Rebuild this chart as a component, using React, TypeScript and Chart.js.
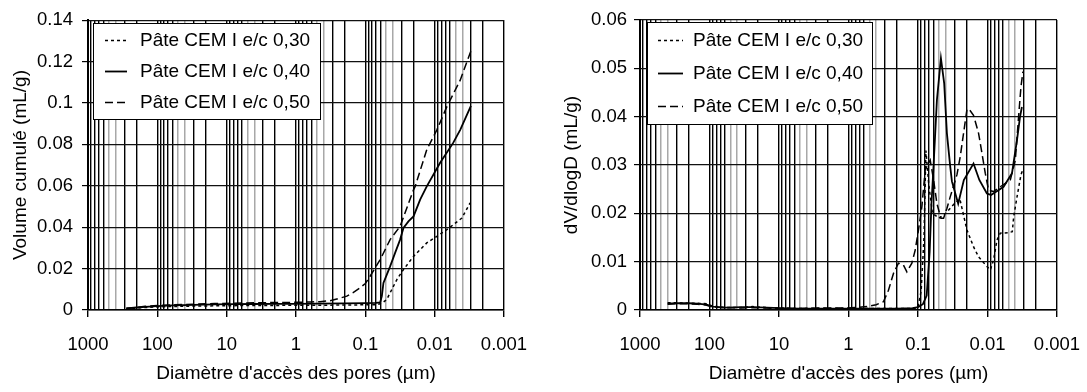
import React, { useEffect, useRef } from 'react';
import { Chart, registerables } from 'chart.js';

Chart.register(...registerables);

// Shared axis labelling
const X_TICK_LABELS = ['1000', '100', '10', '1', '0.1', '0.01', '0.001'];
const MINOR_STEPS = [2, 3, 4, 5, 6, 7, 8, 9];
const SERIES_LABELS = ['Pâte CEM I e/c 0,30', 'Pâte CEM I e/c 0,40', 'Pâte CEM I e/c 0,50'];
const X_TITLE = "Diamètre d'accès des pores (µm)";

// Cumulative intruded volume (mL/g) versus pore access diameter (µm)
const CUM_D_030 = [280, 200, 150, 100, 60, 30, 15, 8, 4, 2, 1, 0.5, 0.2, 0.1, 0.07, 0.061, 0.055, 0.049, 0.0415, 0.0351, 0.0282, 0.0202, 0.013, 0.00929, 0.00667, 0.00405, 0.00308];
const CUM_V_030 = [0.0005, 0.0009, 0.0012, 0.0015, 0.0017, 0.0019, 0.002, 0.0021, 0.0022, 0.0022, 0.0023, 0.0023, 0.0024, 0.0025, 0.0026, 0.003, 0.0038, 0.0051, 0.0099, 0.0147, 0.0195, 0.0259, 0.0324, 0.0356, 0.0388, 0.0444, 0.0517];

const CUM_D_040 = [280, 200, 150, 100, 60, 30, 15, 8, 4, 2, 1, 0.5, 0.2, 0.1, 0.07, 0.0611, 0.0578, 0.0548, 0.049, 0.0439, 0.0372, 0.0315, 0.0282, 0.0239, 0.0202, 0.0162, 0.013, 0.00834, 0.00541, 0.00428, 0.003];
const CUM_V_040 = [0.0008, 0.0012, 0.0015, 0.0019, 0.0022, 0.0025, 0.0027, 0.0028, 0.0029, 0.003, 0.003, 0.0031, 0.0032, 0.0033, 0.0034, 0.0037, 0.0067, 0.0131, 0.0171, 0.0211, 0.0276, 0.034, 0.0396, 0.0428, 0.0452, 0.0533, 0.0597, 0.0711, 0.0807, 0.087, 0.0986];

const CUM_D_050 = [280, 200, 150, 100, 60, 30, 15, 8, 4, 2, 1, 0.6, 0.45, 0.322, 0.25, 0.185, 0.15, 0.119, 0.1, 0.0853, 0.0723, 0.0611, 0.0439, 0.0315, 0.0202, 0.0191, 0.013, 0.00929, 0.00667, 0.00428, 0.0029];
const CUM_V_050 = [0.0008, 0.0012, 0.0018, 0.0022, 0.0025, 0.0028, 0.0031, 0.0033, 0.0035, 0.0036, 0.0037, 0.0039, 0.004, 0.0045, 0.0054, 0.0067, 0.0084, 0.0107, 0.0128, 0.0163, 0.0203, 0.0243, 0.034, 0.0404, 0.058, 0.0597, 0.0774, 0.087, 0.0982, 0.111, 0.1264];

// Differential distribution dV/dlogD (mL/g) versus pore access diameter (µm)
const DIF_D_030 = [400, 300, 200, 150, 110, 90, 60, 33, 24, 15, 9.6, 5, 2.8, 1.05, 0.5, 0.2, 0.12, 0.1, 0.09, 0.082, 0.077, 0.07, 0.062, 0.05, 0.04, 0.03, 0.025, 0.0198, 0.0159, 0.01346, 0.0102, 0.0091, 0.0082, 0.0073, 0.00655, 0.005, 0.0044, 0.0042, 0.00376, 0.0033, 0.0031];
const DIF_V_030 = [0.0015, 0.0015, 0.0014, 0.0014, 0.0013, 0.0008, 0.0005, 0.0005, 0.0007, 0.0005, 0.0004, 0.0003, 0.0003, 0.0003, 0.0003, 0.0003, 0.0003, 0.0005, 0.004, 0.015, 0.033, 0.026, 0.02, 0.019, 0.02, 0.022, 0.023, 0.0166, 0.0131, 0.011, 0.009, 0.0083, 0.0103, 0.0145, 0.0159, 0.016, 0.0162, 0.0193, 0.0234, 0.028, 0.029];

const DIF_D_040 = [400, 300, 200, 150, 110, 90, 60, 33, 24, 15, 9.6, 5, 2.8, 1.05, 0.5, 0.2, 0.12, 0.1, 0.085, 0.075, 0.068, 0.064, 0.0598, 0.0534, 0.0468, 0.042, 0.0384, 0.0344, 0.0325, 0.0264, 0.0219, 0.0159, 0.0131, 0.0102, 0.0089, 0.00587, 0.00444, 0.00376, 0.0034, 0.0032];
const DIF_V_040 = [0.0013, 0.0014, 0.0014, 0.0013, 0.0011, 0.0007, 0.0005, 0.0006, 0.0006, 0.0005, 0.0004, 0.0003, 0.0003, 0.0003, 0.0003, 0.0003, 0.0004, 0.0006, 0.0012, 0.003, 0.012, 0.022, 0.0297, 0.0435, 0.0521, 0.0469, 0.0366, 0.0297, 0.0266, 0.022, 0.0269, 0.0303, 0.0269, 0.0241, 0.0238, 0.0255, 0.0283, 0.0352, 0.04, 0.042];

const DIF_D_050 = [400, 300, 200, 150, 110, 90, 60, 33, 24, 15, 9.6, 5, 2.8, 1.05, 0.8, 0.544, 0.4, 0.314, 0.266, 0.225, 0.191, 0.162, 0.1445, 0.1225, 0.1097, 0.0984, 0.0879, 0.0788, 0.0667, 0.0598, 0.0534, 0.0468, 0.0429, 0.0384, 0.0344, 0.0275, 0.0247, 0.0198, 0.0187, 0.0159, 0.01346, 0.012, 0.01077, 0.00966, 0.0082, 0.00655, 0.0047, 0.00398, 0.00357, 0.0033, 0.00309];
const DIF_V_050 = [0.0012, 0.0013, 0.0013, 0.0012, 0.001, 0.0006, 0.0005, 0.0004, 0.0005, 0.0004, 0.0003, 0.0003, 0.0004, 0.0004, 0.0005, 0.0007, 0.0011, 0.0017, 0.0041, 0.0076, 0.0097, 0.0093, 0.0079, 0.0097, 0.0124, 0.0166, 0.0214, 0.029, 0.031, 0.027, 0.022, 0.019, 0.019, 0.021, 0.0234, 0.028, 0.0317, 0.0414, 0.0417, 0.0403, 0.0366, 0.0324, 0.0283, 0.0248, 0.0245, 0.0255, 0.0269, 0.031, 0.04, 0.0462, 0.0493];

const FONT_FAMILY = "'Liberation Sans', Arial, Helvetica, sans-serif";
const TEXT_SIZE = 19;
const TICK_SIZE = 18.5;

const STYLE_030 = { borderDash: [3, 3], borderWidth: 1.5 };
const STYLE_040 = { borderDash: [] as number[], borderWidth: 1.8 };
const STYLE_050 = { borderDash: [8, 4], borderWidth: 1.5 };

function points(d: number[], v: number[]) {
  return d.map((x, i) => ({ x, y: v[i] }));
}

// 1-2-...-9 ticks for every decade of the diameter axis
function buildLogTicks() {
  const majors = X_TICK_LABELS.map(Number);
  const ticks: { value: number; major: boolean }[] = [];
  majors.forEach((m, i) => {
    ticks.push({ value: m, major: true });
    if (i < majors.length - 1) {
      const base = majors[i + 1];
      MINOR_STEPS.forEach((s) => ticks.push({ value: +(s * base).toPrecision(6), major: false }));
    }
  });
  return ticks.sort((a, b) => a.value - b.value);
}

function stepOf(value: number) {
  const exp = Math.floor(Math.log10(value) + 1e-9);
  return Math.round(value / Math.pow(10, exp));
}

function majorLabel(value: number) {
  const idx = X_TICK_LABELS.findIndex((l) => Math.abs(Math.log10(Number(l)) - Math.log10(value)) < 1e-6);
  return idx >= 0 ? X_TICK_LABELS[idx] : '';
}

// Boxed legend drawn inside the plot area
const boxLegend = {
  id: 'boxLegend',
  afterDatasetsDraw(chart: any, _args: any, opts: any) {
    const { ctx } = chart;
    ctx.save();
    ctx.fillStyle = '#fff';
    ctx.fillRect(opts.x, opts.y, opts.w, opts.h);
    ctx.strokeStyle = '#000';
    ctx.lineWidth = 1;
    ctx.setLineDash([]);
    ctx.strokeRect(opts.x + 0.5, opts.y + 0.5, opts.w, opts.h);
    ctx.font = `${TEXT_SIZE}px ${FONT_FAMILY}`;
    ctx.textBaseline = 'middle';
    ctx.textAlign = 'left';
    chart.data.datasets.forEach((ds: any, i: number) => {
      const cy = Math.round(opts.y + opts.firstRow + i * opts.rowGap) + 0.5;
      ctx.strokeStyle = '#000';
      ctx.lineWidth = ds.borderWidth;
      ctx.setLineDash(ds.borderDash || []);
      ctx.beginPath();
      ctx.moveTo(opts.sampleX, cy);
      ctx.lineTo(opts.sampleX + opts.sampleW, cy);
      ctx.stroke();
      ctx.setLineDash([]);
      ctx.fillStyle = '#000';
      ctx.fillText(ds.label, opts.textX, cy);
    });
    ctx.restore();
  },
};

function makeConfig(p: {
  sets: { d: number[]; v: number[]; style: any }[];
  yMax: number;
  yStep: number;
  yTitle: string;
  yWidth: number;
  yTitlePad: number;
  yLabelPad: number;
  padRight: number;
  legend: any;
}) {
  return {
    type: 'line',
    data: {
      datasets: p.sets.map((s, i) => ({
        label: SERIES_LABELS[i],
        data: points(s.d, s.v),
        borderColor: '#000',
        borderDash: s.style.borderDash,
        borderWidth: s.style.borderWidth,
        pointRadius: 0,
        fill: false,
        tension: 0,
      })),
    },
    options: {
      responsive: true,
      maintainAspectRatio: false,
      animation: false,
      devicePixelRatio: 1,
      layout: { padding: { top: 20, right: p.padRight, left: 0, bottom: 0 } },
      plugins: {
        legend: { display: false },
        tooltip: { enabled: false },
        boxLegend: p.legend,
      },
      scales: {
        x: {
          type: 'logarithmic',
          reverse: true,
          min: 0.001,
          max: 1000,
          afterBuildTicks: (scale: any) => {
            scale.ticks = buildLogTicks();
          },
          afterFit: (scale: any) => {
            scale.height = 82;
          },
          ticks: {
            autoSkip: false,
            maxRotation: 0,
            minRotation: 0,
            padding: 17,
            color: '#000',
            font: { family: FONT_FAMILY, size: TICK_SIZE },
            callback: (value: any) => majorLabel(Number(value)),
          },
          grid: {
            lineWidth: (ctx: any) => {
              const s = ctx.tick ? stepOf(ctx.tick.value) : 1;
              return s === 4 || s === 5 ? 1.5 : 1.4;
            },
            tickLength: 7,
            color: (ctx: any) => {
              const s = ctx.tick ? stepOf(ctx.tick.value) : 1;
              return s === 4 || s === 5 ? '#a8a8a8' : '#000';
            },
            tickColor: (ctx: any) => {
              const s = ctx.tick ? stepOf(ctx.tick.value) : 1;
              return s === 1 ? '#000' : 'rgba(0,0,0,0)';
            },
          },
          border: { display: true, color: '#000', width: 1.4 },
          title: {
            display: true,
            text: X_TITLE,
            color: '#000',
            font: { family: FONT_FAMILY, size: TEXT_SIZE },
            padding: { top: 0, bottom: 7 },
          },
        },
        y: {
          type: 'linear',
          min: 0,
          max: p.yMax,
          afterFit: (scale: any) => {
            scale.width = p.yWidth;
          },
          ticks: {
            stepSize: p.yStep,
            padding: p.yLabelPad,
            color: '#000',
            font: { family: FONT_FAMILY, size: TICK_SIZE },
            callback: (value: any) => String(Number(Number(value).toFixed(3))),
          },
          grid: { color: '#111', lineWidth: 1.2, tickLength: 6, tickColor: '#000' },
          border: { display: true, color: '#000', width: 2 },
          title: {
            display: true,
            text: p.yTitle,
            color: '#000',
            font: { family: FONT_FAMILY, size: TEXT_SIZE },
            padding: { top: p.yTitlePad, bottom: 0 },
          },
        },
      },
    },
    plugins: [boxLegend],
  };
}

function PoreChart({ config, left, width }: { config: () => any; left: number; width: number }) {
  const ref = useRef<HTMLCanvasElement | null>(null);
  useEffect(() => {
    if (!ref.current) return;
    const chart = new Chart(ref.current, config());
    return () => chart.destroy();
  }, []);
  return (
    <div style={{ position: 'absolute', left, top: 0, width, height: 392 }}>
      <canvas ref={ref} />
    </div>
  );
}

export default function App() {
  const cumulative = () =>
    makeConfig({
      sets: [
        { d: CUM_D_030, v: CUM_V_030, style: STYLE_030 },
        { d: CUM_D_040, v: CUM_V_040, style: STYLE_040 },
        { d: CUM_D_050, v: CUM_V_050, style: STYLE_050 },
      ],
      yMax: 0.14,
      yStep: 0.02,
      yTitle: 'Volume cumulé (mL/g)',
      yWidth: 88,
      yTitlePad: 9,
      yLabelPad: 9,
      padRight: 39,
      legend: { x: 93, y: 23, w: 227, h: 96, firstRow: 17, rowGap: 31, sampleX: 105, sampleW: 22, textX: 140 },
    });
  const differential = () =>
    makeConfig({
      sets: [
        { d: DIF_D_030, v: DIF_V_030, style: STYLE_030 },
        { d: DIF_D_040, v: DIF_V_040, style: STYLE_040 },
        { d: DIF_D_050, v: DIF_V_050, style: STYLE_050 },
      ],
      yMax: 0.06,
      yStep: 0.01,
      yTitle: 'dV/dlogD (mL/g)',
      yWidth: 97,
      yTitlePad: 17,
      yLabelPad: 7,
      padRight: 30,
      legend: { x: 104, y: 22, w: 225, h: 102, firstRow: 18, rowGap: 33, sampleX: 115, sampleW: 25, textX: 150 },
    });
  return (
    <div style={{ position: 'absolute', left: 0, top: 0, width: 1087, height: 392, background: '#fff' }}>
      <PoreChart config={cumulative} left={0} width={543} />
      <PoreChart config={differential} left={543} width={544} />
    </div>
  );
}
